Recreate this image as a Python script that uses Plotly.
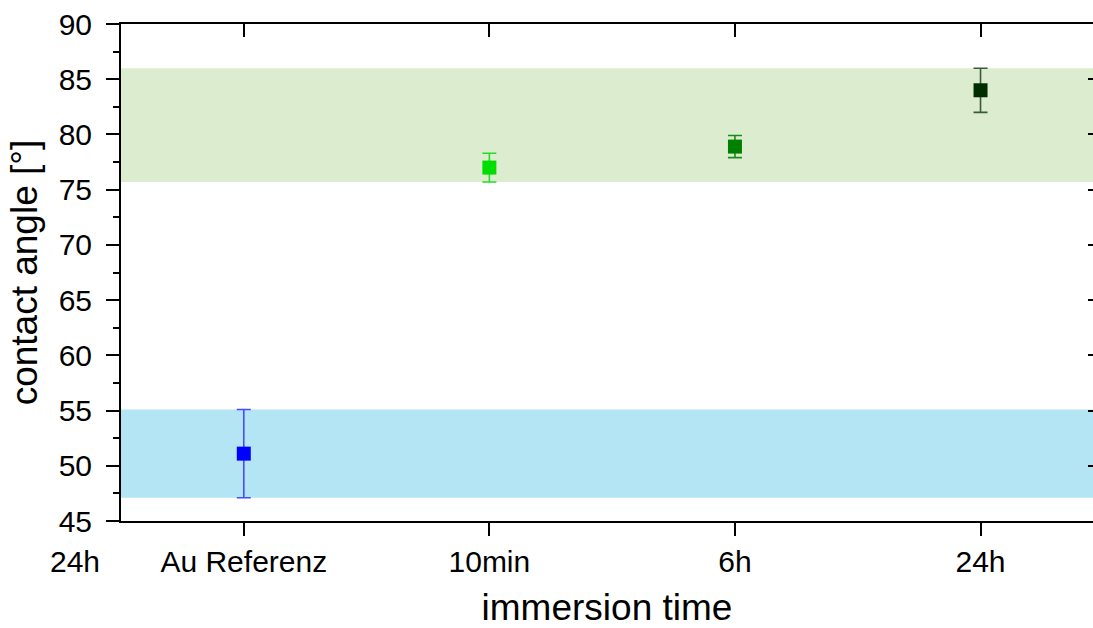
import plotly.graph_objects as go

# Contact angle measurements per immersion time
categories = ["Au Referenz", "10min", "6h", "24h"]
angle_mean = [51.1, 77.0, 78.9, 84.0]
angle_err = [4.0, 1.3, 1.0, 2.0]
marker_colors = ["#0000ff", "#00dd00", "#008000", "#002e00"]
errbar_colors = ["#4a4aff", "#22dd22", "#1a8a1a", "#3a5a3a"]
extra_label = "24h"
extra_label_pos = -0.688

y_ticks = [45, 50, 55, 60, 65, 70, 75, 80, 85, 90]
x_range = [-0.5, 3.458]
font_family = "Arial, Liberation Sans, sans-serif"

fig = go.Figure()

# shaded bands: reference spread and spread of the immersed samples
ref_lo = angle_mean[0] - angle_err[0]
ref_hi = angle_mean[0] + angle_err[0]
sam_lo = min(m - e for m, e in zip(angle_mean[1:], angle_err[1:]))
sam_hi = max(m + e for m, e in zip(angle_mean[1:], angle_err[1:]))
fig.add_shape(type="rect", xref="paper", yref="y", x0=0, x1=1, y0=ref_lo, y1=ref_hi,
              fillcolor="#b4e5f4", line_width=0, layer="below")
fig.add_shape(type="rect", xref="paper", yref="y", x0=0, x1=1, y0=sam_lo, y1=sam_hi,
              fillcolor="#dcedcf", line_width=0, layer="below")

for i, cat in enumerate(categories):
    fig.add_trace(go.Scatter(
        x=[i], y=[angle_mean[i]], mode="markers", name=cat,
        marker=dict(symbol="square", size=14, color=marker_colors[i], line_width=0),
        error_y=dict(type="data", array=[angle_err[i]], visible=True,
                     color=errbar_colors[i], thickness=1.6, width=7),
        showlegend=False,
    ))

# helper trace so that mirrored top/right axes are drawn
fig.add_trace(go.Scatter(x=[0], y=[60], xaxis="x2", yaxis="y2", mode="markers",
                         marker=dict(opacity=0), showlegend=False, hoverinfo="skip"))

axis_font = dict(family=font_family, size=30, color="black")

fig.update_layout(
    width=1093, height=628,
    margin=dict(l=121, r=0, t=24, b=107, autoexpand=False),
    paper_bgcolor="white", plot_bgcolor="white",
    font=dict(family=font_family, color="black"),
    xaxis=dict(
        range=x_range, tickmode="array", tickvals=list(range(len(categories))),
        ticktext=categories, tickfont=axis_font,
        showline=True, linecolor="black", linewidth=2,
        ticks="outside", ticklen=13, tickwidth=2, tickcolor="black",
        showgrid=False, zeroline=False, ticklabelstandoff=0, automargin=False,
        title=dict(text="immersion time", font=dict(family=font_family, size=37, color="black"),
                   standoff=24),
    ),
    yaxis=dict(
        range=[45, 90], tickmode="array", tickvals=y_ticks, tickfont=axis_font,
        showline=True, linecolor="black", linewidth=2,
        ticks="outside", ticklen=13, tickwidth=2, tickcolor="black",
        minor=dict(ticks="outside", ticklen=6, tickwidth=2, tickcolor="black", dtick=2.5,
                   showgrid=False),
        showgrid=False, zeroline=False, ticklabelstandoff=8, automargin=False,
        title=dict(text="contact angle [°]", font=dict(family=font_family, size=37, color="black"),
                   standoff=10),
    ),
    xaxis2=dict(
        overlaying="x", side="top", range=x_range, tickmode="array",
        tickvals=list(range(len(categories))), showticklabels=False,
        showline=True, linecolor="black", linewidth=2,
        ticks="inside", ticklen=13, tickwidth=2, tickcolor="black",
        showgrid=False, zeroline=False, automargin=False,
    ),
    yaxis2=dict(
        overlaying="y", side="right", range=[45, 90], tickmode="array", tickvals=y_ticks,
        showticklabels=False, showline=False,
        ticks="inside", ticklen=5, tickwidth=2, tickcolor="black",
        showgrid=False, zeroline=False, automargin=False,
    ),
)

# stray category label left of the axis, positioned through the x scale
extra_x_paper = (extra_label_pos - x_range[0]) / (x_range[1] - x_range[0])
fig.add_annotation(x=extra_x_paper, xref="paper", y=-0.081, yref="paper", text=extra_label,
                   showarrow=False, font=axis_font, xanchor="center", yanchor="middle")

fig.write_html("out.html")
